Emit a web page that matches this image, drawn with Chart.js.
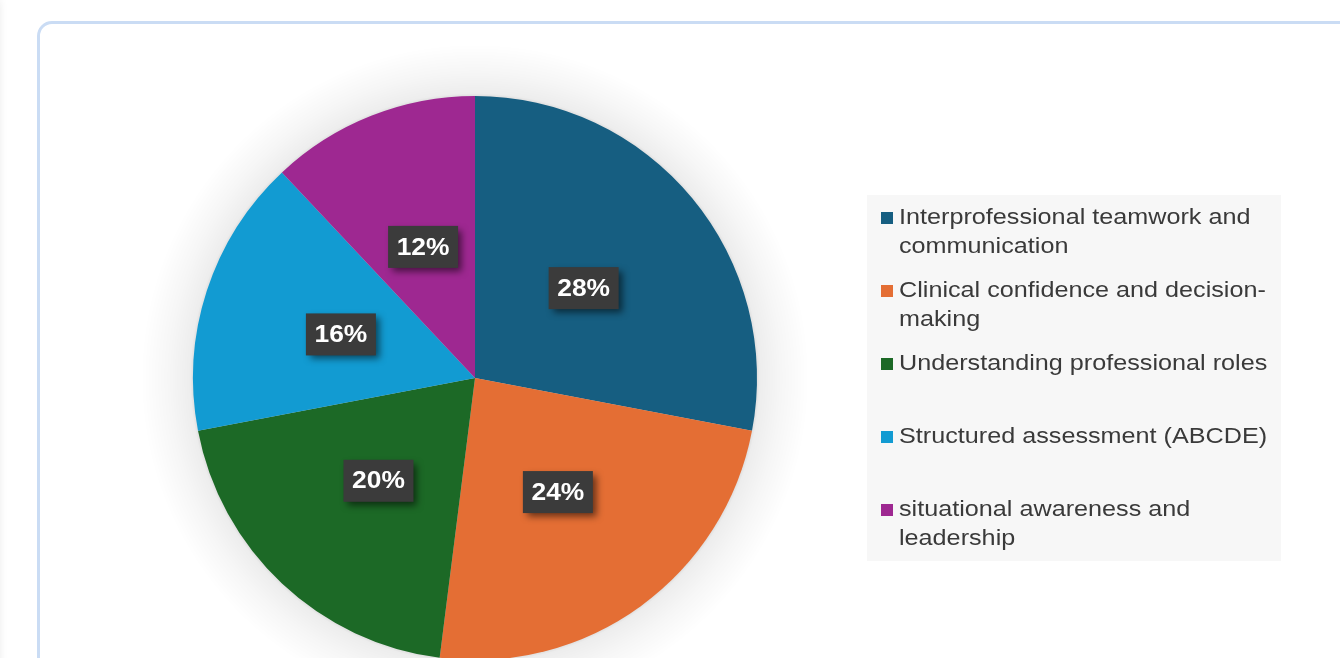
<!DOCTYPE html>
<html>
<head>
<meta charset="utf-8">
<script src="https://cdn.jsdelivr.net/npm/chart.js@4/dist/chart.umd.min.js"></script>
<style>
  html, body { margin: 0; padding: 0; background: #fff; overflow: hidden; width: 1340px; height: 658px; }
  .side { position: absolute; left: -30px; top: 0; width: 30px; height: 700px; box-shadow: 0 0 8px rgba(0,0,0,0.08); }
  .card { position: absolute; left: 37px; top: 21px; width: 1400px; height: 800px;
          border: 3px solid #cadcf4; border-radius: 15px; background: #fff; }
  #chart { position: absolute; left: 0; top: 0; }
</style>
</head>
<body>
<div class="side"></div>
<div class="card"></div>
<canvas id="chart" width="1340" height="720"></canvas>
<script>
// categories (pre-wrapped the way the legend shows them)
const categories = [
  ["Interprofessional teamwork and", "communication"],
  ["Clinical confidence and decision-", "making"],
  ["Understanding professional roles"],
  ["Structured assessment (ABCDE)"],
  ["situational awareness and", "leadership"]
];
const shares = [28, 24, 20, 16, 12];
const sliceColors = ["#165e81", "#e46e34", "#1c6926", "#129bd2", "#9e2891"];

// soft grey halo behind the pie
const haloPlugin = {
  id: "halo",
  beforeDatasetsDraw(chart) {
    const arc = chart.getDatasetMeta(0).data[0];
    if (!arc) return;
    const { x, y, outerRadius: r } = arc;
    const ctx = chart.ctx;
    const g = ctx.createRadialGradient(x, y, r - 4, x, y, r + 52);
    g.addColorStop(0, "rgba(0,0,0,0.20)");
    g.addColorStop(0.12, "rgba(0,0,0,0.07)");
    g.addColorStop(0.5, "rgba(0,0,0,0.035)");
    g.addColorStop(1, "rgba(0,0,0,0)");
    ctx.save();
    ctx.fillStyle = g;
    ctx.beginPath();
    ctx.arc(x, y, r + 52, 0, Math.PI * 2);
    ctx.fill();
    ctx.restore();
  }
};

// the source picture has its text a bit stretched sideways
function wideText(ctx, txt, x, y, stretch) {
  ctx.save();
  ctx.translate(x, y);
  ctx.scale(stretch, 1);
  ctx.fillText(txt, 0, 0);
  ctx.restore();
}

// dark boxed percentage labels
const boxLabels = {
  id: "boxLabels",
  afterDatasetsDraw(chart) {
    const ctx = chart.ctx;
    const meta = chart.getDatasetMeta(0);
    ctx.save();
    ctx.font = "bold 24px 'Liberation Sans', Arial, sans-serif";
    ctx.textAlign = "center";
    ctx.textBaseline = "middle";
    meta.data.forEach((arc, i) => {
      const p = arc.tooltipPosition();
      const txt = chart.data.datasets[0].data[i] + "%";
      const w = 70, h = 42;
      ctx.save();
      ctx.shadowColor = "rgba(0,0,0,0.55)";
      ctx.shadowBlur = 7;
      ctx.shadowOffsetX = 4;
      ctx.shadowOffsetY = 4;
      ctx.fillStyle = "#3b3b3b";
      ctx.fillRect(p.x - w / 2, p.y - h / 2, w, h);
      ctx.restore();
      ctx.fillStyle = "#ffffff";
      wideText(ctx, txt, p.x, p.y + 1, 1.1);
    });
    ctx.restore();
  }
};

// legend panel on the right
const sideLegend = {
  id: "sideLegend",
  afterDraw(chart) {
    const ctx = chart.ctx;
    const colors = chart.data.datasets[0].backgroundColor;
    ctx.save();
    ctx.fillStyle = "#f7f7f7";
    ctx.fillRect(867, 195, 414, 366);
    ctx.font = "22px 'Liberation Sans', Arial, sans-serif";
    ctx.textBaseline = "middle";
    chart.data.labels.forEach((lines, i) => {
      const y0 = 218 + i * 73;
      ctx.fillStyle = colors[i];
      ctx.fillRect(881, y0 - 6, 12, 12);
      ctx.fillStyle = "#3a3a3a";
      lines.forEach((ln, j) => wideText(ctx, ln, 899, y0 + j * 28.5, 1.145));
    });
    ctx.restore();
  }
};

new Chart(document.getElementById("chart"), {
  type: "pie",
  data: {
    labels: categories,
    datasets: [{
      data: shares,
      backgroundColor: sliceColors,
      borderWidth: 0
    }]
  },
  options: {
    responsive: false,
    animation: false,
    layout: { padding: { left: 193, right: 583, top: 96, bottom: 60 } },
    plugins: {
      legend: { display: false },
      tooltip: { enabled: false }
    }
  },
  plugins: [haloPlugin, boxLabels, sideLegend]
});
</script>
</body>
</html>
